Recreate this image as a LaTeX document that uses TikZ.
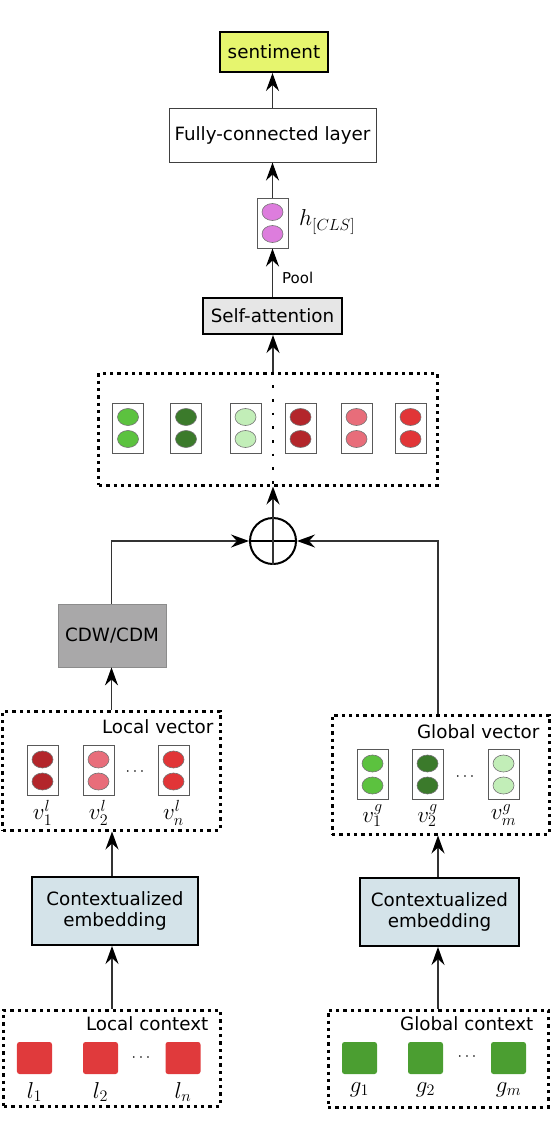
\documentclass[tikz,border=0pt]{standalone}
\usepackage{fix-cm}
\usepackage{fontspec}
\setmainfont{DejaVu Sans}
\usetikzlibrary{arrows.meta, shapes.geometric, positioning}

\definecolor{sentfill}{RGB}{230,245,110}
\definecolor{attfill}{RGB}{230,230,230}
\definecolor{cdwfill}{RGB}{169,168,169}
\definecolor{embfill}{RGB}{212,227,233}
\definecolor{clsdot}{RGB}{221,125,221}
\definecolor{gA}{RGB}{92,194,63}
\definecolor{gB}{RGB}{59,122,43}
\definecolor{gC}{RGB}{194,238,184}
\definecolor{rA}{RGB}{179,38,43}
\definecolor{rB}{RGB}{232,109,122}
\definecolor{rC}{RGB}{225,53,55}
\definecolor{redtok}{RGB}{224,58,60}
\definecolor{greentok}{RGB}{75,158,49}

\tikzset{
    txt/.style={font=\fontsize{18.3bp}{21bp}\selectfont},
    mth/.style={font=\fontsize{23bp}{26bp}\selectfont, inner sep=0pt},
    blk/.style={txt, draw, line width=2bp, inner sep=0pt},
    plainbox/.style={txt, draw=black!75, line width=1bp, inner sep=0pt},
    vecbox/.style={draw=black!65, line width=1bp, minimum width=31bp, minimum height=50bp, inner sep=0pt, fill=white},
    dot/.style={ellipse, draw=black!55, line width=0.6bp, minimum width=21bp, minimum height=17bp, inner sep=0pt},
    grp/.style={draw, line width=3bp, dash pattern=on 3.3bp off 4bp, inner sep=0pt},
    tok/.style={rounded corners=2.5bp, minimum width=35bp, minimum height=32bp, inner sep=0pt},
    link/.style={draw=black!80, line width=1.4bp, -{Stealth[length=18bp,width=13bp,inset=6bp,color=black]}},
    dotsym/.style={inner sep=0pt, font=\fontsize{16bp}{18bp}\selectfont},
}

% a vector drawn as a box holding two dots: name, position, colour
\newcommand{\twodot}[3]{%
    \node[vecbox] (#1) at (#2) {};
    \node[dot, fill=#3] (#1-a) at ([yshift=11bp]#1.center) {};
    \node[dot, fill=#3] (#1-b) at ([yshift=-11bp]#1.center) {};
}

\begin{document}
\begin{tikzpicture}[x=1bp, y=-1bp]
    \useasboundingbox (0,0) rectangle (560,1136);

    % top of the network
    \node[blk, fill=sentfill, minimum width=108bp, minimum height=40bp] (sent) at (274,52) {sentiment};
    \node[plainbox, minimum width=207bp, minimum height=54bp] (fc) at (272.5,135) {Fully-connected layer};
    \twodot{cls}{272.5,223}{clsdot}
    \node[mth, anchor=west] (clslab) at (299,222) {$h_{[CLS]}$};
    \node[blk, fill=attfill, minimum width=139bp, minimum height=36bp] (att) at (272.5,316) {Self-attention};

    % concatenated vectors
    \node[grp, minimum width=338bp, minimum height=112bp] (mix) at (268,429) {};
    \twodot{m1}{128,428}{gA}
    \twodot{m2}{186,428}{gB}
    \twodot{m3}{245.5,428}{gC}
    \twodot{m4}{300.5,428}{rA}
    \twodot{m5}{356.5,428}{rB}
    \twodot{m6}{410.5,428}{rC}

    % sum
    \node[circle, draw, line width=2bp, minimum size=46bp, inner sep=0pt] (plus) at (273,541) {};
    \draw[line width=2.7bp, dash pattern=on 2.7bp off 11bp] (mix.north -| plus.center) -- (mix.south -| plus.center);

    \node[txt, draw=black!45, line width=0.8bp, fill=cdwfill, minimum width=108bp, minimum height=63bp, inner sep=0pt] (cdw) at (112,635.5) {CDW/CDM};

    % local branch
    \node[grp, minimum width=217bp, minimum height=119bp] (lvec) at (111.5,770.5) {};
    \node[txt, anchor=east, inner sep=0pt] (lvlab) at ([xshift=-8bp,yshift=-17bp]lvec.north east) {Local vector};
    \twodot{lv1}{42.5,770.5}{rA}
    \twodot{lv2}{98.5,770.5}{rB}
    \twodot{lv3}{173.5,770.5}{rC}
    \node[dotsym] (lvdots) at (135,772) {$\cdots$};
    \node[mth, below=4bp of lv1] (lv1lab) {$v_1^l$};
    \node[mth, below=4bp of lv2] (lv2lab) {$v_2^l$};
    \node[mth, below=4bp of lv3] (lv3lab) {$v_n^l$};
    \node[blk, fill=embfill, minimum width=166bp, minimum height=68bp, align=center] (lemb) at (115,911) {Contextualized\\embedding};
    \node[grp, minimum width=216bp, minimum height=96bp] (lctx) at (112,1058) {};
    \node[txt, anchor=east, inner sep=0pt] (lclab) at ([xshift=-13bp,yshift=-15bp]lctx.north east) {Local context};
    \node[tok, fill=redtok] (l1) at (34.5,1058) {};
    \node[tok, fill=redtok] (l2) at (100.5,1058) {};
    \node[tok, fill=redtok] (l3) at (183,1058) {};
    \node[dotsym] (lcdots) at (141,1058) {$\cdots$};
    \node[mth, below=8bp of l1] (l1lab) {$l_1$};
    \node[mth, below=8bp of l2] (l2lab) {$l_2$};
    \node[mth, below=8bp of l3] (l3lab) {$l_n$};

    % global branch
    \node[grp, minimum width=217bp, minimum height=119bp] (gvec) at (440.5,774.5) {};
    \node[txt, anchor=east, inner sep=0pt] (gvlab) at ([xshift=-11bp,yshift=-18bp]gvec.north east) {Global vector};
    \twodot{gv1}{372.5,774.5}{gA}
    \twodot{gv2}{427.5,774.5}{gB}
    \twodot{gv3}{503.5,774.5}{gC}
    \node[dotsym] (gvdots) at (465,777) {$\cdots$};
    \node[mth, below=4bp of gv1] (gv1lab) {$v_1^g$};
    \node[mth, below=4bp of gv2] (gv2lab) {$v_2^g$};
    \node[mth, below=4bp of gv3] (gv3lab) {$v_m^g$};
    \node[blk, fill=embfill, minimum width=159bp, minimum height=68bp, align=center] (gemb) at (439.5,912) {Contextualized\\embedding};
    \node[grp, minimum width=220bp, minimum height=97bp] (gctx) at (438,1058.5) {};
    \node[txt, anchor=east, inner sep=0pt] (gclab) at ([xshift=-16bp,yshift=-15bp]gctx.north east) {Global context};
    \node[tok, fill=greentok] (g1) at (359.5,1058) {};
    \node[tok, fill=greentok] (g2) at (425.5,1058) {};
    \node[tok, fill=greentok] (g3) at (508.5,1058) {};
    \node[dotsym] (gcdots) at (467,1057) {$\cdots$};
    \node[mth, below=8bp of g1] (g1lab) {$g_1$};
    \node[mth, below=8bp of g2] (g2lab) {$g_2$};
    \node[mth, below=8bp of g3] (g3lab) {$g_m$};

    % connectors
    \draw[link] (lctx.north) -- (lctx.north |- lemb.south);
    \draw[link] (lemb.north -| lctx.north) -- (lvec.south -| lctx.north);
    \draw[link] (lvec.north) -- (lvec.north |- cdw.south);
    \draw[link] (cdw.north -| lvec.north) |- (plus.west);
    \draw[link] (gctx.north) -- (gctx.north |- gemb.south);
    \draw[link] (gemb.north -| gctx.north) -- (gvec.south -| gctx.north);
    \draw[link] (gvec.north -| gctx.north) |- (plus.east);
    \draw[line width=1.5bp] (plus.west) -- (plus.east);
    \draw[link] (plus.south) -- (mix.south -| plus.center);
    \draw[link] (mix.north -| plus.center) -- (att.south -| plus.center);
    \draw[link] (att.north) -- (cls.south) node[pos=0.4, anchor=west, inner sep=0pt, xshift=9bp, font=\fontsize{15bp}{17bp}\selectfont] (poollab) {Pool};
    \draw[link] (cls.north) -- (fc.south);
    \draw[link] (fc.north) -- (fc.north |- sent.south);
\end{tikzpicture}
\end{document}
